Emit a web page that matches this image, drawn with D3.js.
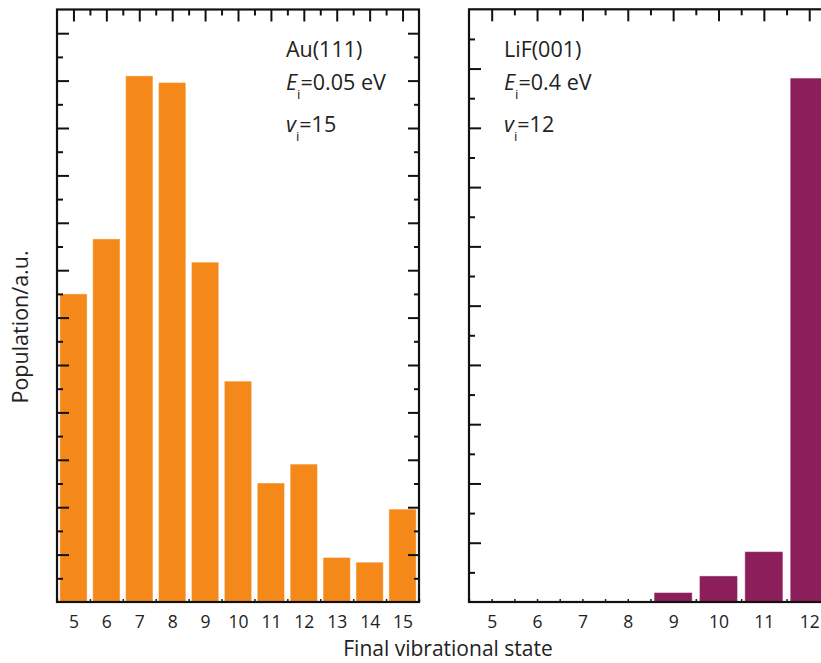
<!DOCTYPE html>
<html>
<head>
<meta charset="utf-8">
<script src="https://cdn.jsdelivr.net/npm/d3@7"></script>
<style>
  html, body { margin: 0; padding: 0; background: #fff; }
  svg { display: block; font-family: "Open Sans", "Noto Sans", sans-serif; }
</style>
</head>
<body>
<svg id="chart" width="821" height="663"></svg>
<script>
// Final vibrational state populations (arbitrary units)
const states = [5, 6, 7, 8, 9, 10, 11, 12, 13, 14, 15];
const auStates = [5, 6, 7, 8, 9, 10, 11, 12, 13, 14, 15];
const auPopulation = [6.50, 7.66, 11.10, 10.96, 7.17, 4.66, 2.51, 2.91, 0.94, 0.84, 1.96];
const lifStates = [5, 6, 7, 8, 9, 10, 11, 12];
const lifPopulation = [0, 0, 0, 0, 0.16, 0.44, 0.85, 8.84];
const tickLabels = ["5", "6", "7", "8", "9", "10", "11", "12", "13", "14", "15"];

const panels = [
  {
    name: "Au(111)", energy: "0.05 eV", vi: "15",
    states: auStates, values: auPopulation, color: "#F4891A",
    x0: 57, x1: 419, yMax: 12.5, top: 9.5, padding: 0.17, textX: 286
  },
  {
    name: "LiF(001)", energy: "0.4 eV", vi: "12",
    states: lifStates, values: lifPopulation, color: "#8C1E5C",
    x0: 469, x1: 968, yMax: 10, top: 9.3, padding: 0.16, textX: 504
  }
];

const svg = d3.select("#chart");
const width = +svg.attr("width");
const bottom = 602;

panels.forEach(p => {
  const x = d3.scaleBand().domain(states).range([p.x0, p.x1]).paddingInner(p.padding).paddingOuter(p.padding / 2);
  const xc = d3.scaleLinear().domain([4.5, 15.5]).range([p.x0, p.x1]);
  const y = d3.scaleLinear().domain([0, p.yMax]).range([bottom, p.top]);
  const g = svg.append("g");

  const halfSteps = d3.range(9, 32).map(v => v / 2);            // 4.5 .. 15.5
  const yHalf = d3.range(0, p.yMax * 2 + 1).map(v => v / 2);

  // bottom tiny ticks (under the bars)
  g.append("g").attr("transform", `translate(0,${bottom})`)
    .call(d3.axisTop(xc).tickValues(halfSteps).tickSize(3).tickFormat(""))
    .call(a => a.select(".domain").remove())
    .selectAll("line").attr("stroke", "#222").attr("stroke-width", 1.5);

  // bars
  g.append("g").selectAll("rect")
    .data(p.states.map((s, i) => ({ s, v: p.values[i] })).filter(d => d.v > 0))
    .join("rect")
    .attr("x", d => x(d.s))
    .attr("width", x.bandwidth())
    .attr("y", d => y(d.v))
    .attr("height", d => bottom - y(d.v))
    .attr("fill", p.color)
    .attr("stroke", "rgba(255,255,255,0.45)")
    .attr("stroke-width", 1);

  const major = (v, step) => Math.abs(v / step - Math.round(v / step)) < 1e-6;

  // top axis ticks (pointing inwards)
  g.append("g").attr("transform", `translate(0,${p.top})`)
    .call(d3.axisBottom(xc).tickValues(halfSteps.filter(v => v > 4.5 && v < 15.5)).tickSizeOuter(0).tickFormat(""))
    .call(a => a.select(".domain").remove())
    .selectAll(".tick line")
    .attr("y2", d => major(d, 1) ? 12 : 6)
    .attr("stroke", "#111").attr("stroke-width", 2);

  // left axis ticks
  g.append("g").attr("transform", `translate(${p.x0},0)`)
    .call(d3.axisRight(y).tickValues(yHalf.filter(v => v > 0 && v < p.yMax)).tickFormat(""))
    .call(a => a.select(".domain").remove())
    .selectAll(".tick line")
    .attr("x2", d => major(d, 1) ? 12 : 6)
    .attr("stroke", "#111").attr("stroke-width", 2);

  // right axis ticks
  if (p.x1 < width) {
    g.append("g").attr("transform", `translate(${p.x1},0)`)
      .call(d3.axisLeft(y).tickValues(yHalf.filter(v => v > 0 && v < p.yMax)).tickFormat(""))
      .call(a => a.select(".domain").remove())
      .selectAll(".tick line")
      .attr("x2", d => major(d, 1) ? -11 : -5)
      .attr("stroke", "#111").attr("stroke-width", 2);
  }

  // bottom tick labels (only those inside the visible area)
  const labelled = states.filter(s => xc(s) + 10 <= width);
  g.append("g").attr("transform", `translate(0,${bottom})`)
    .call(d3.axisBottom(xc).tickValues(labelled).tickSize(0).tickPadding(14)
      .tickFormat(d => tickLabels[states.indexOf(d)]))
    .call(a => a.select(".domain").remove())
    .selectAll("text")
    .attr("font-size", 17.5).attr("fill", "#222")
    .attr("font-family", "'Open Sans', sans-serif");

  // frame
  g.append("rect")
    .attr("x", p.x0).attr("y", p.top)
    .attr("width", p.x1 - p.x0).attr("height", bottom - p.top)
    .attr("fill", "none").attr("stroke", "#111").attr("stroke-width", 2.2);

  // annotations
  const fs = 21.5;
  g.append("text").attr("x", p.textX).attr("y", 57)
    .attr("font-size", fs).attr("fill", "#222").text(p.name);

  const e = g.append("text").attr("x", p.textX).attr("y", 90)
    .attr("font-size", fs).attr("fill", "#222");
  e.append("tspan").attr("font-style", "italic").text("E");
  e.append("tspan").attr("font-size", 13.5).attr("dy", 9).text("i");
  e.append("tspan").attr("dy", -9).text("=" + p.energy);

  const v = g.append("text").attr("x", p.textX).attr("y", 132)
    .attr("font-size", fs).attr("fill", "#222");
  v.append("tspan").attr("font-style", "italic").text("v");
  v.append("tspan").attr("font-size", 13.5).attr("dy", 9).text("i");
  v.append("tspan").attr("dy", -9).text("=" + p.vi);
});

// axis titles
svg.append("text")
  .attr("transform", "translate(28,327) rotate(-90)")
  .attr("text-anchor", "middle")
  .attr("font-size", 21.5).attr("fill", "#222")
  .text("Population/a.u.");

svg.append("text")
  .attr("x", 448).attr("y", 656)
  .attr("text-anchor", "middle")
  .attr("font-size", 21)
  .attr("fill", "#222")
  .text("Final vibrational state");
</script>
</body>
</html>
